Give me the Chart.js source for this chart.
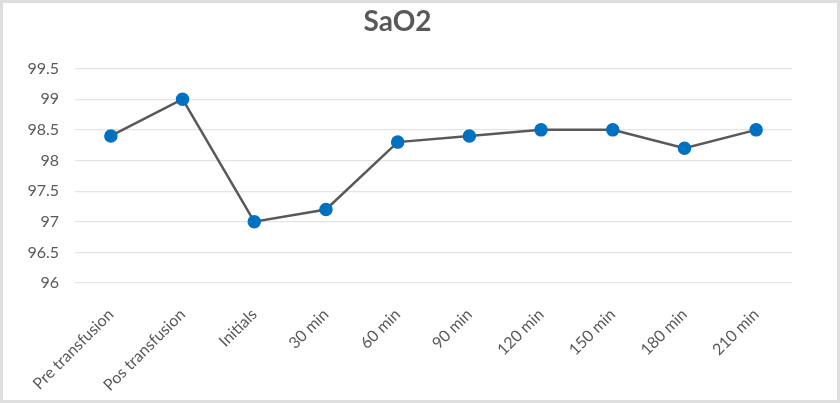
<!DOCTYPE html>
<html>
<head>
<meta charset="utf-8">
<script src="https://cdn.jsdelivr.net/npm/chart.js@4/dist/chart.umd.min.js"></script>
<style>
  html, body { margin: 0; padding: 0; background: #fff; }
  #wrap { width: 834px; height: 397px; border: 3px solid #dedede; background: #fff; }
</style>
</head>
<body>
<div id="wrap"><canvas id="c" width="834" height="397"></canvas></div>
<script>
// 카테고리 / 값
const categories = ["Pre transfusion", "Pos transfusion", "Initials", "30 min", "60 min", "90 min", "120 min", "150 min", "180 min", "210 min"];
const sao2 = [98.4, 99, 97, 97.2, 98.3, 98.4, 98.5, 98.5, 98.2, 98.5];
const yTicks = [96, 96.5, 97, 97.5, 98, 98.5, 99, 99.5];

const ctx = document.getElementById("c").getContext("2d");
new Chart(ctx, {
  type: "line",
  data: {
    labels: categories,
    datasets: [{
      label: "SaO2",
      data: sao2,
      borderColor: "#595959",
      borderWidth: 2.5,
      pointBackgroundColor: "#0070c0",
      pointBorderColor: "#0070c0",
      pointRadius: 5.5,
      tension: 0
    }]
  },
  options: {
    responsive: false,
    animation: false,
    layout: { padding: { left: 0, right: 45, top: 0, bottom: 0 } },
    plugins: {
      legend: { display: false },
      tooltip: { enabled: false },
      title: {
        display: true,
        text: "SaO2",
        color: "#595959",
        font: { family: "Lato", size: 28, weight: "bold" },
        padding: { top: 2, bottom: 30 }
      }
    },
    scales: {
      x: {
        offset: true,
        grid: { display: false },
        border: { display: false },
        ticks: {
          color: "#595959",
          font: { family: "Lato", size: 16 },
          minRotation: 45,
          maxRotation: 45,
          padding: 14
        },
        afterFit: s => { s.height = 117; }
      },
      y: {
        min: 96,
        max: 99.5,
        afterBuildTicks: s => { s.ticks = yTicks.map(v => ({ value: v })); },
        grid: { color: "#e4e4e4", lineWidth: 1.2, drawTicks: false },
        border: { display: false },
        ticks: {
          color: "#595959",
          font: { family: "Lato", size: 16 },
          padding: 16,
          callback: v => String(v)
        },
        afterFit: s => { s.width = 72; }
      }
    }
  }
});
</script>
</body>
</html>
